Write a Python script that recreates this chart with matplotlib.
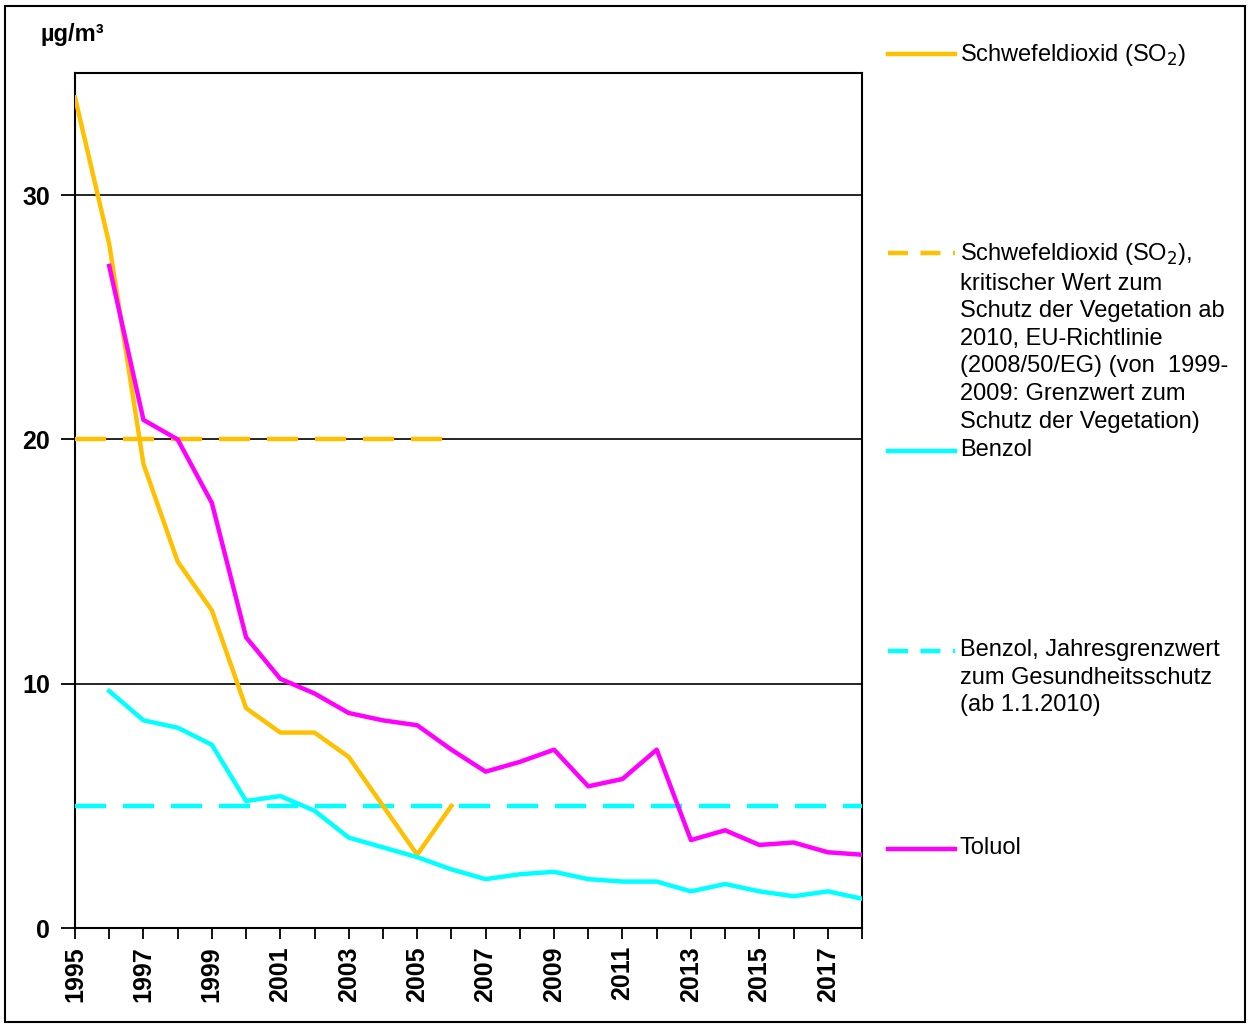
import matplotlib
matplotlib.use("Agg")
import matplotlib.pyplot as plt
from matplotlib.lines import Line2D
from matplotlib.patches import Rectangle

plt.rcParams['font.family'] = ['Liberation Sans', 'DejaVu Sans']

# data (µg/m³)
so2_years = list(range(1995, 2007))
so2 = [34.0, 28.0, 19.0, 15.0, 13.0, 9.0, 8.0, 8.0, 7.0, 5.0, 3.0, 5.0]
so2_limit_years = [1995, 2006]
so2_limit = [20, 20]

benzol_years = list(range(1996, 2019))
benzol = [9.7, 8.5, 8.2, 7.5, 5.2, 5.4, 4.8, 3.7, 3.3, 2.9, 2.4, 2.0, 2.2, 2.3,
          2.0, 1.9, 1.9, 1.5, 1.8, 1.5, 1.3, 1.5, 1.2]
benzol_limit_years = [1995, 2018]
benzol_limit = [5, 5]

toluol_years = list(range(1996, 2019))
toluol = [27.1, 20.8, 20.0, 17.4, 11.9, 10.2, 9.6, 8.8, 8.5, 8.3, 7.3, 6.4, 6.8,
          7.3, 5.8, 6.1, 7.3, 3.6, 4.0, 3.4, 3.5, 3.1, 3.0]

year_labels = [str(y) for y in range(1995, 2019, 2)]

legend_labels = [
    "Schwefeldioxid (SO$_2$)",
    "Schwefeldioxid (SO$_2$),\nkritischer Wert zum\nSchutz der Vegetation ab\n2010, EU-Richtlinie\n(2008/50/EG) (von  1999-\n2009: Grenzwert zum\nSchutz der Vegetation)",
    "Benzol",
    "Benzol, Jahresgrenzwert\nzum Gesundheitsschutz\n(ab 1.1.2010)",
    "Toluol",
]

c_so2 = "#FFC000"
c_benz = "#00FFFF"
c_tol = "#FF00FF"

W, H = 1251, 1026
fig = plt.figure(figsize=(W / 100, H / 100), dpi=100)
ax = fig.add_axes([75 / W, 1 - 928 / H, (862 - 75) / W, (928 - 73) / H])

dash = (7.0, 3.8)
ax.plot(so2_limit_years, so2_limit, color=c_so2, lw=3.2, dashes=dash, zorder=3)
ax.plot(benzol_limit_years, benzol_limit, color=c_benz, lw=3.2, dashes=dash, zorder=3)
ax.plot(so2_years, so2, color=c_so2, lw=3.2, zorder=4)
ax.plot(benzol_years, benzol, color=c_benz, lw=3.2, zorder=4)
ax.plot(toluol_years, toluol, color=c_tol, lw=3.2, zorder=5)

ax.set_xlim(1995, 2018)
ax.set_ylim(0, 35)
ax.set_yticks([0, 10, 20, 30])
ax.set_yticklabels(["0", "10", "20", "30"], fontsize=18, fontweight="bold")
ax.set_xticks(range(1995, 2019, 2))
ax.set_xticks(range(1995, 2019), minor=True)
ax.set_xticklabels(year_labels, rotation=90, fontsize=18, fontweight="bold")
ax.tick_params(axis="x", which="both", direction="out", length=8, width=1.3, pad=5)
ax.tick_params(axis="y", direction="out", length=10, width=1.3, pad=8)
ax.yaxis.grid(True, color="black", lw=1.2)
ax.set_axisbelow(True)
for s in ax.spines.values():
    s.set_linewidth(1.5)
    s.set_color("black")

fig.text(40 / W, 1 - 35 / H, "µg/m³", fontsize=17, fontweight="bold",
         ha="left", va="center")

# legend drawn at the right side
entries = [
    (54, c_so2, "-", legend_labels[0]),
    (253, c_so2, "--", legend_labels[1]),
    (451, c_benz, "-", legend_labels[2]),
    (651, c_benz, "--", legend_labels[3]),
    (849, c_tol, "-", legend_labels[4]),
]
for ypix, col, ls, lab in entries:
    yf = 1 - ypix / H
    ln = Line2D([888 / W, 955 / W], [yf, yf], transform=fig.transFigure,
                color=col, lw=3.2)
    if ls == "--":
        ln.set_dashes((4.5, 2.8))
    fig.add_artist(ln)
    fig.text(960 / W, 1 - (ypix - 12) / H, lab, fontsize=17, ha="left",
             va="top", linespacing=1.33)

fig.add_artist(Rectangle((5 / W, 4 / H), (1245 - 5) / W, (1020 - 4) / H,
                         transform=fig.transFigure, fill=False,
                         edgecolor="black", lw=1.5))

fig.savefig("out.png", dpi=100)
